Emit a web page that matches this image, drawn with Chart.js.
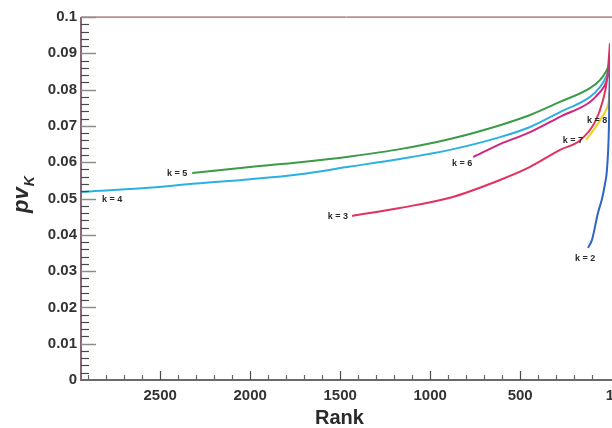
<!DOCTYPE html>
<html>
<head>
<meta charset="utf-8">
<script src="https://cdn.jsdelivr.net/npm/chart.js@4/dist/chart.umd.min.js"></script>
<style>
    html, body { margin: 0; padding: 0; background: #ffffff; }
    #wrap { width: 612px; height: 428px; position: relative; }
</style>
</head>
<body>
<div id="wrap"><canvas id="rankChart"></canvas></div>
<script>
// Dados (rank, pv_k)
const seriesNames = ['k = 2', 'k = 3', 'k = 4', 'k = 5', 'k = 6', 'k = 7', 'k = 8'];

const k2Rank = [123, 101, 68, 45, 29, 18, 7, 1];
const k2Value = [0.0364, 0.0386, 0.0460, 0.0500, 0.0540, 0.0579, 0.0697, 0.0895];

const k3Rank = [1434, 1168, 890, 612, 445, 279, 168, 84, 40, 18, 1];
const k3Value = [0.0452, 0.0474, 0.0502, 0.0551, 0.0587, 0.0634, 0.0660, 0.0711, 0.0771, 0.0826, 0.0928];

const k4Rank = [2940, 2600, 2300, 2000, 1723, 1445, 1168, 890, 612, 445, 279, 112, 57, 23, 8, 1];
const k4Value = [0.0518, 0.0528, 0.0541, 0.0553, 0.0567, 0.0588, 0.0609, 0.0634, 0.0669, 0.0697, 0.0738, 0.0780, 0.0807, 0.0835, 0.0860, 0.0905];

const k5Rank = [2322, 2000, 1723, 1445, 1168, 890, 612, 445, 279, 112, 57, 23, 6, 1];
const k5Value = [0.0570, 0.0587, 0.0600, 0.0616, 0.0636, 0.0664, 0.0702, 0.0730, 0.0766, 0.0804, 0.0826, 0.0850, 0.0870, 0.0880];

const k6Rank = [761, 612, 445, 279, 112, 57, 29, 12, 1];
const k6Value = [0.0614, 0.0650, 0.0683, 0.0725, 0.0766, 0.0793, 0.0813, 0.0840, 0.0880];

const k7Rank = [134, 45, 6, 1];
const k7Value = [0.0661, 0.0725, 0.0771, 0.0790];

const k8Rank = [10, 1];
const k8Value = [0.0745, 0.0800];

const xTickLabels = [2500, 2000, 1500, 1000, 500, 1];
const yTickLabels = [0, 0.01, 0.02, 0.03, 0.04, 0.05, 0.06, 0.07, 0.08, 0.09, 0.1];

const ranksList = [k2Rank, k3Rank, k4Rank, k5Rank, k6Rank, k7Rank, k8Rank];
const valuesList = [k2Value, k3Value, k4Value, k5Value, k6Value, k7Value, k8Value];

// estilos
const cores = ['#2f64c8', '#e0325e', '#2cb0e2', '#3c9a48', '#d2247e', '#f2d21e', '#e8a020'];
// posição do rótulo em relação ao primeiro ponto: [dx, dy, alinhamento]
const rotulos = [
    [-3, 11, 'center'],
    [-4, 1, 'right'],
    [21, 8, 'left'],
    [-5, 0, 'right'],
    [-1, 6, 'right'],
    [-3, 0, 'right'],
    [-1, 11, 'right']
];

const datasets = seriesNames.map((nome, i) => ({
    label: nome,
    data: ranksList[i].map((r, j) => ({ x: r, y: valuesList[i][j] })),
    borderColor: cores[i],
    backgroundColor: cores[i],
    borderWidth: 2,
    pointRadius: 0,
    showLine: true,
    cubicInterpolationMode: 'monotone'
}));

const FONTE = "'Liberation Sans', Arial, sans-serif";

const eixosPlugin = {
    id: 'eixos',
    afterDraw(chart) {
        const ctx = chart.ctx;
        const area = chart.chartArea;
        const xs = chart.scales.x;
        const ys = chart.scales.y;
        ctx.save();

        // linha superior
        ctx.lineWidth = 1;
        ctx.strokeStyle = '#c8b0b0';
        ctx.beginPath(); ctx.moveTo(area.left, area.top - 0.5); ctx.lineTo(612, area.top - 0.5); ctx.stroke();
        ctx.strokeStyle = '#e27c7c';
        ctx.beginPath(); ctx.moveTo(area.left, area.top + 0.5); ctx.lineTo(612, area.top + 0.5); ctx.stroke();

        // eixos
        ctx.lineWidth = 2;
        ctx.strokeStyle = '#886878';
        ctx.beginPath(); ctx.moveTo(area.left, area.top); ctx.lineTo(area.left, area.bottom + 1); ctx.stroke();
        ctx.strokeStyle = '#6a6a6a';
        ctx.beginPath(); ctx.moveTo(area.left, area.bottom); ctx.lineTo(612, area.bottom); ctx.stroke();

        // ticks do y (para dentro)
        for (let i = 1; i <= 50; i++) {
            const v = i * 0.002;
            const py = Math.round(ys.getPixelForValue(v)) + 0.5;
            const maior = i % 5 === 0;
            ctx.lineWidth = maior ? 1.5 : 1.2;
            ctx.strokeStyle = maior ? '#8c8c8c' : '#4a4a4a';
            ctx.beginPath();
            ctx.moveTo(area.left, py);
            ctx.lineTo(area.left + (maior ? 15 : 8), py);
            ctx.stroke();
        }

        // ticks do x
        for (let r = 100; r <= 2900; r += 100) {
            const px = Math.round(xs.getPixelForValue(r)) + 0.5;
            const maior = r % 500 === 0;
            ctx.lineWidth = 1.2;
            ctx.strokeStyle = maior ? '#4a4a4a' : '#666666';
            ctx.beginPath();
            ctx.moveTo(px, area.bottom);
            ctx.lineTo(px, area.bottom - (maior ? 9 : 5));
            ctx.stroke();
        }

        // rótulos das curvas
        ctx.font = 'bold 9px ' + FONTE;
        ctx.fillStyle = '#2a2a2a';
        ctx.textBaseline = 'middle';
        chart.data.datasets.forEach((ds, i) => {
            const p = ds.data[0];
            const px = xs.getPixelForValue(p.x);
            const py = ys.getPixelForValue(p.y);
            const [dx, dy, al] = rotulos[i];
            ctx.textAlign = al;
            ctx.fillText(ds.label, px + dx, py + dy);
        });

        // título do eixo x
        ctx.font = 'bold 20px ' + FONTE;
        ctx.fillStyle = '#2a2a2a';
        ctx.textAlign = 'center';
        ctx.textBaseline = 'middle';
        ctx.fillText('Rank', (area.left + area.right) / 2 - 6, 418);

        // título do eixo y: pv com índice K
        ctx.translate(28, 213);
        ctx.rotate(-Math.PI / 2);
        ctx.textAlign = 'left';
        ctx.textBaseline = 'alphabetic';
        ctx.font = 'italic bold 22px ' + FONTE;
        ctx.fillText('pv', 0, 0);
        const w = ctx.measureText('pv').width;
        ctx.font = 'italic bold 14px ' + FONTE;
        ctx.fillText('K', w + 1, 6);

        ctx.restore();
    }
};

const ctx = document.getElementById('rankChart').getContext('2d');
const rankChart = new Chart(ctx, {
    type: 'scatter',
    data: { datasets: datasets },
    options: {
        responsive: true,
        maintainAspectRatio: false,
        animation: false,
        layout: {
            autoPadding: false,
            padding: { top: 17, right: 2, left: 0, bottom: 0 }
        },
        plugins: {
            legend: { display: false },
            tooltip: { enabled: false }
        },
        scales: {
            x: {
                type: 'linear',
                reverse: true,
                min: 1,
                max: 2940,
                grid: { display: false, drawTicks: false },
                border: { display: false },
                afterBuildTicks: scale => {
                    scale.ticks = xTickLabels.map(v => ({ value: v }));
                },
                afterFit: scale => {
                    scale.height = 48;
                    scale.paddingLeft = 0;
                    scale.paddingRight = 0;
                },
                ticks: {
                    autoSkip: false,
                    maxRotation: 0,
                    padding: 7,
                    color: '#333333',
                    font: { family: FONTE, size: 15, weight: 'bold' },
                    callback: v => String(v)
                }
            },
            y: {
                min: 0,
                max: 0.1,
                grid: { display: false, drawTicks: false },
                border: { display: false },
                afterBuildTicks: scale => {
                    scale.ticks = yTickLabels.map(v => ({ value: v }));
                },
                afterFit: scale => {
                    scale.width = 81;
                    scale.paddingTop = 0;
                    scale.paddingBottom = 0;
                },
                ticks: {
                    padding: 4,
                    color: '#333333',
                    font: { family: FONTE, size: 15, weight: 'bold' },
                    callback: v => (v === 0 ? '0' : String(Number(v.toFixed(2))))
                }
            }
        }
    },
    plugins: [eixosPlugin]
});
</script>
</body>
</html>
